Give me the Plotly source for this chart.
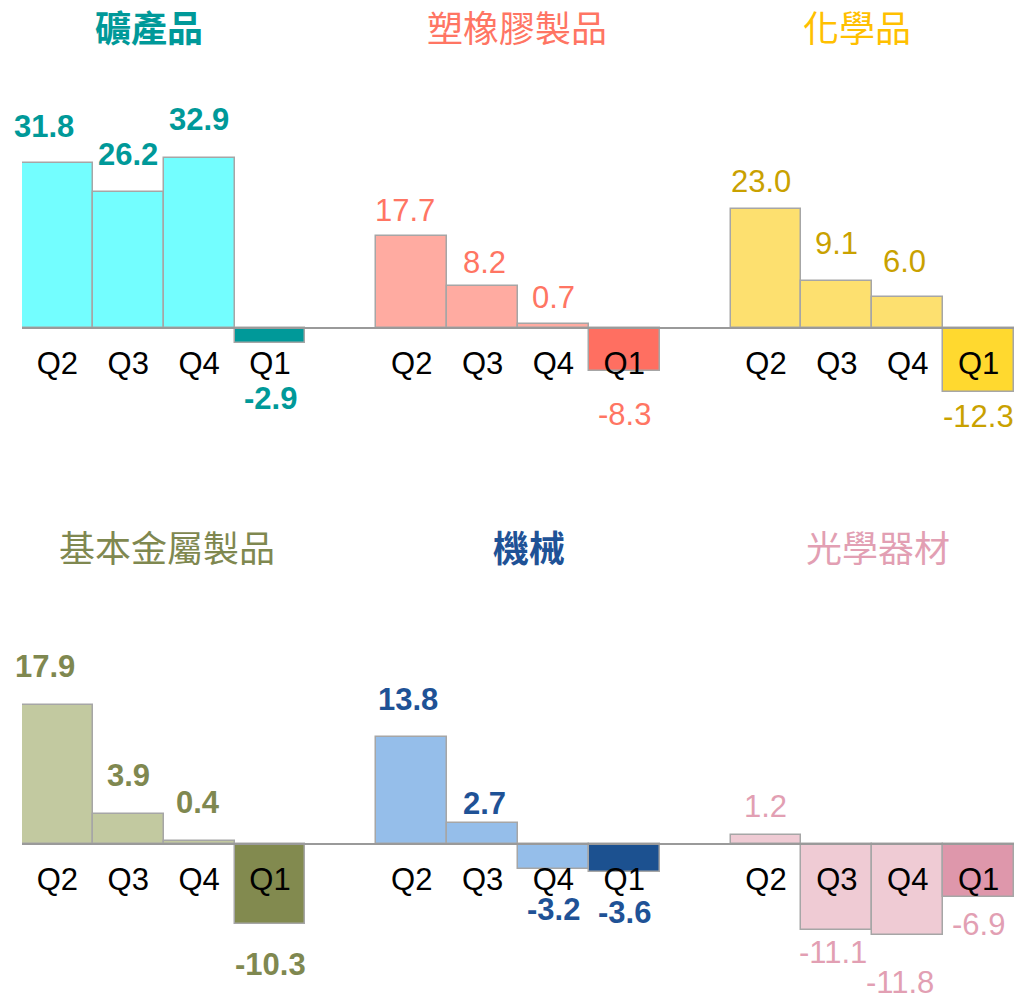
import plotly.graph_objects as go

# ---------------- data ----------------
CATEGORIES = ["礦產品", "塑橡膠製品", "化學品", "基本金屬製品", "機械", "光學器材"]
QUARTERS = ["Q2", "Q3", "Q4", "Q1"]
MINING = [31.8, 26.2, 32.9, -2.9]
PLASTIC = [17.7, 8.2, 0.7, -8.3]
CHEMICAL = [23.0, 9.1, 6.0, -12.3]
METAL = [17.9, 3.9, 0.4, -10.3]
MACHINERY = [13.8, 2.7, -3.2, -3.6]
OPTICAL = [1.2, -11.1, -11.8, -6.9]
SERIES = [MINING, PLASTIC, CHEMICAL, METAL, MACHINERY, OPTICAL]

# ---------------- styles ----------------
W, H = 1017, 994
ML, MR = 22, 3
TITLE_COLORS = ["#009999", "#FF7563", "#FFC000", "#7F8850", "#1F5296", "#E29FB3"]
LABEL_COLORS = ["#009999", "#FF7563", "#C9A100", "#7F8850", "#1F5296", "#E29FB3"]
BAR_LIGHT = ["#73FEFF", "#FFABA1", "#FDE06F", "#C2C9A0", "#95BEEA", "#EFCBD4"]
BAR_DARK = ["#009999", "#FF6F61", "#FFD92F", "#828A4F", "#1C5190", "#DE97AB"]
TITLE_BOLD = [True, False, False, False, True, False]
LABEL_BOLD = [True, False, False, True, True, False]
# title centre positions in pixels
TITLE_POS = [(149, 26), (517, 26), (857, 26), (167, 546), (529, 546), (878, 546)]
# per-label pixel offsets (dx, dy) relative to bar end
LABEL_DY = [[37, 37.5, 38, -55], [26, 23, 27, -43], [27, 37, 36, -25],
            [39, 38, 38, -41], [38, 19.5, -41, -41], [28, -22, -47, -27.5]]
LABEL_DX = [[-13, 0, 0, 0], [-7, 2, 0, 0], [-5, 0, -3, 0],
            [-12, 0, -1, 0], [-4, 2, 0, 0], [-1, -4, -8, 0]]

# row geometry: (top px, bottom px, y-range)
ROWS = [
    dict(top=60, bottom=440, rng=[-21.6, 51.75]),
    dict(top=580, bottom=990, rng=[-18.84, 34.06]),
]

fig = go.Figure()
annotations = []

for r, row in enumerate(ROWS):
    xa = "x" if r == 0 else "x2"
    ya = "y" if r == 0 else "y2"
    xs, ys, cols, tickv, tickt = [], [], [], [], []
    for c in range(3):
        k = r * 3 + c
        vals = SERIES[k]
        for i, v in enumerate(vals):
            slot = 5 * c + i
            xs.append(slot)
            ys.append(v)
            cols.append(BAR_DARK[k] if i == len(vals) - 1 else BAR_LIGHT[k])
            tickv.append(slot)
            tickt.append(QUARTERS[i])
            annotations.append(dict(
                x=slot, y=v, xref=xa, yref=ya, text=f"{v:.1f}", showarrow=False,
                xanchor="center", yanchor="middle",
                xshift=LABEL_DX[k][i], yshift=LABEL_DY[k][i],
                font=dict(family="Liberation Sans, Arial", size=31,
                          color=LABEL_COLORS[k],
                          weight="bold" if LABEL_BOLD[k] else "normal"),
            ))
        tx, ty = TITLE_POS[k]
        annotations.append(dict(
            x=(tx - ML) / (W - ML - MR), y=1 - ty / H, xref="paper", yref="paper",
            text=CATEGORIES[k],
            showarrow=False, xanchor="center", yanchor="middle",
            font=dict(family="Noto Sans CJK TC", size=36, color=TITLE_COLORS[k],
                      weight="bold" if TITLE_BOLD[k] else "normal"),
        ))
    fig.add_trace(go.Bar(
        x=xs, y=ys, width=1, xaxis=xa, yaxis=ya,
        marker=dict(color=cols, line=dict(color="#A6A6A6", width=1.5)),
        hoverinfo="skip", showlegend=False,
    ))

    d0 = 1 - row["bottom"] / H
    d1 = 1 - row["top"] / H
    a, b = row["rng"]
    zero_paper = d0 + (0 - a) / (b - a) * (d1 - d0)
    suffix = "" if r == 0 else "2"
    fig.layout["yaxis" + suffix] = dict(domain=[d0, d1], range=row["rng"], visible=False,
                                        fixedrange=True)
    fig.layout["xaxis" + suffix] = dict(
        domain=[0, 1], range=[-0.5, 13.5], anchor="free", position=zero_paper,
        showline=True, linecolor="#9A9A9A", linewidth=1.5, showgrid=False,
        zeroline=False, ticks="", tickvals=tickv, ticktext=tickt,
        tickfont=dict(family="Liberation Sans, Arial", size=31, color="black"),
        ticklabelstandoff=8, layer="above traces",
    )

fig.update_layout(
    width=W, height=H, margin=dict(l=ML, r=MR, t=0, b=0),
    paper_bgcolor="white", plot_bgcolor="rgba(0,0,0,0)",
    bargap=0, annotations=annotations,
)

fig.write_html(
    "out.html",
    config={"displayModeBar": False},
    post_script="document.body.style.margin='0';document.body.style.overflow='hidden';",
)
